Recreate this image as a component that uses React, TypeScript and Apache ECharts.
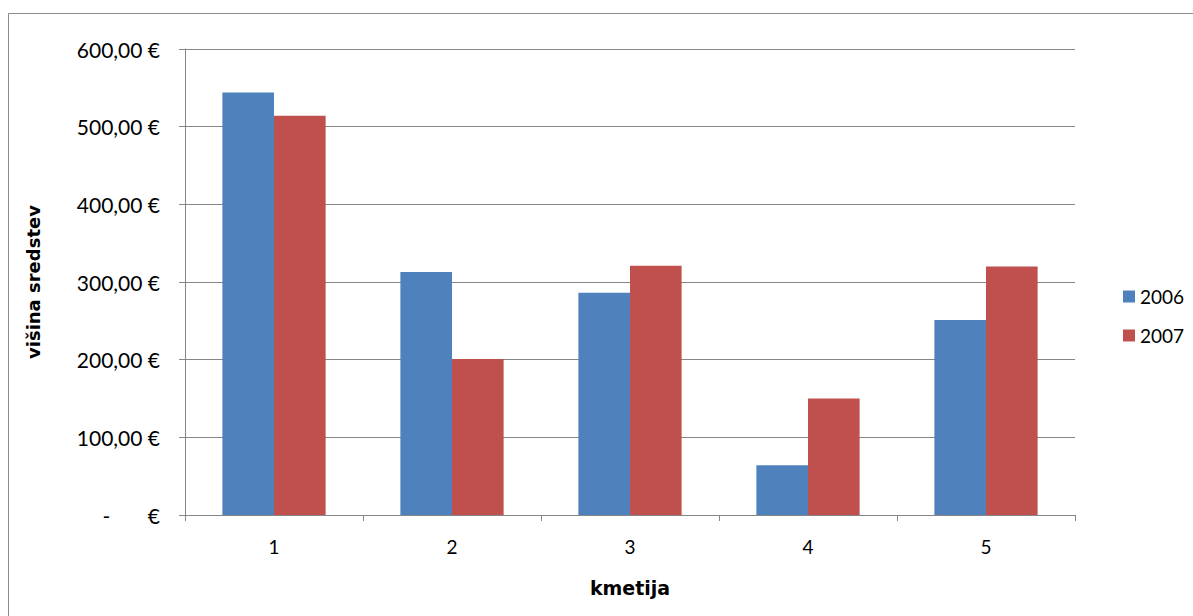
import React, { useEffect, useRef } from "react";
import * as echarts from "echarts";

const categories = ["1", "2", "3", "4", "5"];
const series2006 = [544, 313, 286, 64, 251];
const series2007 = [514, 201, 321, 150, 320];

const FONT = "Lato, 'Open Sans', sans-serif";
const TITLE_FONT = "'DejaVu Sans', sans-serif";

export default function App() {
  const ref = useRef<HTMLDivElement>(null);
  useEffect(() => {
    if (!ref.current) return;
    const chart = echarts.init(ref.current, undefined, { renderer: "svg" });
    chart.setOption({
      animation: false,
      backgroundColor: "#ffffff",
      textStyle: { fontFamily: FONT },
      graphic: [
        {
          type: "rect",
          shape: { x: 8.5, y: 13.5, width: 1250, height: 700 },
          style: { fill: "none", stroke: "#8c8c8c", lineWidth: 1 },
          silent: true,
        },
      ],
      grid: { left: 185, right: 118, top: 49, bottom: 101 },
      legend: {
        orient: "vertical",
        left: 1118,
        top: 282,
        itemWidth: 12,
        itemHeight: 12,
        itemGap: 20,
        icon: "rect",
        textStyle: { fontFamily: FONT, fontSize: 19, color: "#000" },
        data: ["2006", "2007"],
      },
      xAxis: {
        type: "category",
        data: categories,
        name: "kmetija",
        nameLocation: "middle",
        nameGap: 63,
        nameTextStyle: { fontFamily: TITLE_FONT, fontSize: 19, fontWeight: "bold", color: "#000" },
        axisLine: { lineStyle: { color: "#868686", width: 1 } },
        axisTick: { show: true, length: 6, alignWithLabel: false, lineStyle: { color: "#868686" } },
        axisLabel: { fontFamily: FONT, fontSize: 19, color: "#000", margin: 22 },
      },
      yAxis: {
        type: "value",
        min: 0,
        max: 600,
        interval: 100,
        name: "višina sredstev",
        nameLocation: "middle",
        nameGap: 143,
        nameRotate: 90,
        nameTextStyle: { fontFamily: TITLE_FONT, fontSize: 18, fontWeight: "bold", color: "#000" },
        axisLine: { show: true, lineStyle: { color: "#868686", width: 1 } },
        axisTick: { show: true, length: 6, lineStyle: { color: "#868686" } },
        splitLine: { lineStyle: { color: "#868686", width: 1 } },
        axisLabel: {
          fontFamily: FONT,
          fontSize: 21,
          color: "#000",
          margin: 25,
          formatter: (v: number) =>
            v === 0 ? "-       €" : v.toFixed(2).replace(".", ",") + " €",
        },
      },
      series: [
        {
          name: "2006",
          type: "bar",
          data: series2006,
          itemStyle: { color: "#4f81bd" },
          barGap: "0%",
          barCategoryGap: "42%",
        },
        {
          name: "2007",
          type: "bar",
          data: series2007,
          itemStyle: { color: "#c0504d" },
          barGap: "0%",
          barCategoryGap: "42%",
        },
      ],
    });
    return () => chart.dispose();
  }, []);
  return (
    <div
      ref={ref}
      style={{ position: "absolute", left: 0, top: 0, width: 1193, height: 616 }}
    />
  );
}
